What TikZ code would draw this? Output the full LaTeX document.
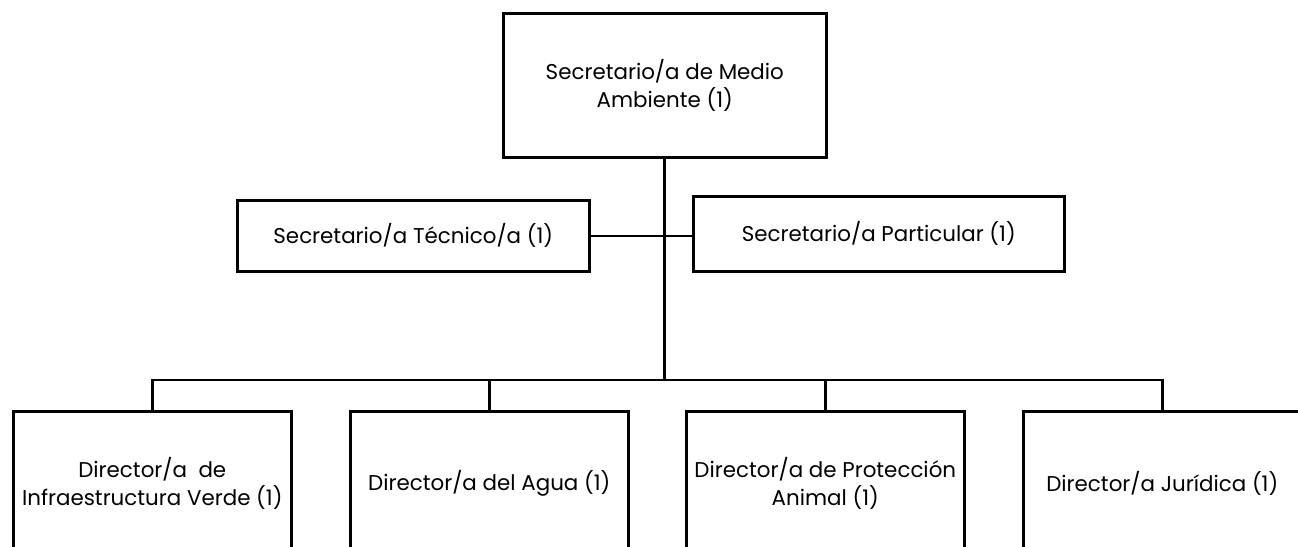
\documentclass[tikz,border=0pt]{standalone}
\usepackage{fontspec}
\setmainfont{Poppins}
\begin{document}
\begin{tikzpicture}[x=1pt,y=1pt,
  box/.style={draw=black, line width=2.6pt, rectangle, inner sep=0pt, anchor=north west, align=center, font=\fontsize{21.4}{28}\selectfont},
  conn/.style={draw=black, line width=2.6pt},
  trunk/.style={draw=black, line width=3.2pt}]
\useasboundingbox (0,0) rectangle (1298,-546);
\clip (0,0) rectangle (1298,-546);
\node[box, minimum width=323pt, minimum height=144pt] (top) at (502,-12) {Secretario/a de Medio\\Ambiente (1)};
\node[box, minimum width=352pt, minimum height=71pt] (tec) at (236,-199) {Secretario/a Técnico/a (1)};
\node[box, minimum width=371pt, minimum height=75pt] (par) at (692,-195) {Secretario/a Particular (1)};
\node[box, minimum width=278pt, minimum height=144pt] (d1) at (12,-410) {Director/a \ de\\Infraestructura Verde (1)};
\node[box, minimum width=278pt, minimum height=144pt] (d2) at (349,-410) {Director/a del Agua (1)};
\node[box, minimum width=278pt, minimum height=144pt] (d3) at (685,-410) {Director/a de Protección\\Animal (1)};
\node[box, minimum width=278pt, minimum height=144pt] (d4) at (1022,-410) {Director/a Jurídica (1)};
\coordinate (bus) at (top.south |- 0,-380);
\coordinate (mid) at (top.south |- 0,-236);
\draw[trunk] (top.south) -- (bus);
\draw[conn] (tec.east |- mid) -- (mid) -- (par.west |- mid);
\draw[conn] (d1.north) -- (d1.north |- bus) -- (d4.north |- bus) -- (d4.north);
\draw[conn] (d2.north) -- (d2.north |- bus);
\draw[conn] (d3.north) -- (d3.north |- bus);
\end{tikzpicture}
\end{document}
